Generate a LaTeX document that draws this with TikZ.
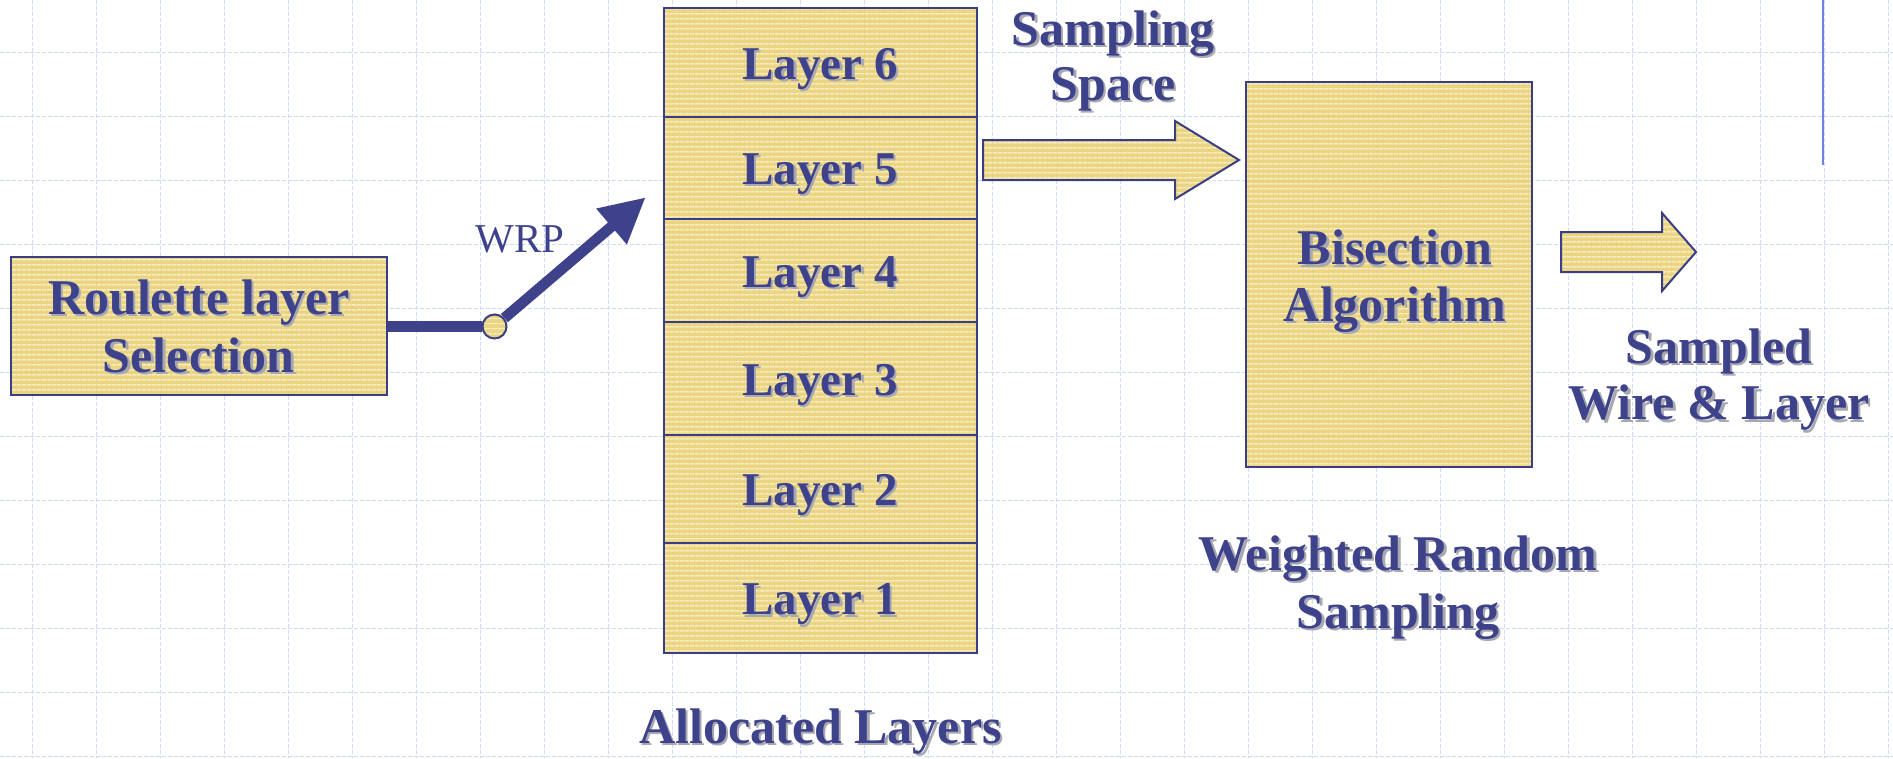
\documentclass[tikz,border=0pt]{standalone}
\usepackage{fontspec}
\setmainfont{Liberation Serif}
\usetikzlibrary{arrows.meta,patterns.meta}
\definecolor{txt}{RGB}{61,66,138}
\definecolor{bord}{RGB}{58,62,132}
\definecolor{yel}{RGB}{232,206,106}
\definecolor{gridc}{RGB}{206,218,252}
\definecolor{shadowc}{RGB}{168,168,178}
\definecolor{vline}{RGB}{110,130,230}
\pgfdeclarelayer{grid}
\pgfdeclarelayer{conn}
\pgfsetlayers{grid,conn,main}
\newcommand\shd[1]{\rlap{\smash{\raisebox{-2.5pt}{\hspace{2.5pt}\textcolor{shadowc}{#1}}}}#1}
\tikzset{
  boxs/.style={draw=bord, line width=2pt,
    preaction={fill=yel, fill opacity=0.85},
    preaction={pattern={Lines[angle=0,distance=4.67pt,line width=1pt]}, pattern color=white, fill opacity=0.85}},
  lay/.style={boxs, minimum width=312.8pt, inner sep=0pt, text height=33pt, text depth=0pt,
    text=txt, font=\bfseries\fontsize{47}{56}\selectfont},
  lbl/.style={text=txt, inner sep=0pt, align=center, font=\bfseries\fontsize{50}{#1}\selectfont},
  lbl/.default=57,
  gridl/.style={draw=gridc, line width=1pt, dash pattern=on 4pt off 2pt},
  conn/.style={draw=txt, line width=10.7pt},
}
\begin{document}
\begin{tikzpicture}[x=1pt,y=-1pt]
\useasboundingbox (0,0) rectangle (1893,758);
\begin{pgfonlayer}{grid}
  \fill[white] (0,0) rectangle (1893,758);
  \foreach \i in {0,...,29} \draw[gridl] ({32+64*\i},0) -- ({32+64*\i},758);
  \foreach \j in {0,...,11} \draw[gridl] (0,{52.7+64*\j}) -- (1893,{52.7+64*\j});
\end{pgfonlayer}

% Roulette box
\node[boxs, minimum width=375.6pt, minimum height=137.7pt, inner sep=0pt, text=txt, align=center,
      font=\bfseries\fontsize{50}{58}\selectfont] (rbox) at (198.8,326.2)
      {\shd{Roulette layer}\\\shd{Selection}};

% circle
\node[circle, boxs, minimum size=24pt, inner sep=0pt] (c) at (494.5,326.5) {};
\coordinate (wtip) at (645.7,197.3);
\node[text=txt, anchor=base, inner sep=0pt, font=\fontsize{41}{48}\selectfont] (wrp) at (520,252.7) {WRP};

% layers stack
\node[lay, minimum height=108.4pt] (l6) at (820.1,62.5)   {\shd{Layer 6}};
\node[lay, minimum height=102.3pt] (l5) at (820.1,167.85) {\shd{Layer 5}};
\node[lay, minimum height=103.3pt] (l4) at (820.1,270.65) {\shd{Layer 4}};
\node[lay, minimum height=112.7pt] (l3) at (820.1,378.65) {\shd{Layer 3}};
\node[lay, minimum height=107.8pt] (l2) at (820.1,488.9)  {\shd{Layer 2}};
\node[lay, minimum height=110.5pt] (l1) at (820.1,598.05) {\shd{Layer 1}};
\node[lbl, anchor=base] (alloc) at (820.6,743) {\shd{Allocated Layers}};

% sampling space arrow
\path[boxs] (983,140) -- (1175,140) -- (1175,121) -- (1239,160) -- (1175,199) -- (1175,180) -- (983,180) -- cycle;
\node[lbl=55] (sspace) at (1113,60.8) {\shd{Sampling}\\\shd{Space}};

% bisection box
\node[boxs, minimum width=286.4pt, minimum height=385.3pt, inner sep=0pt] (bis) at (1389.2,274.65) {};
\node[lbl=56.7] (bistext) at (1395,281.3) {\shd{Bisection}\\\shd{Algorithm}};
\node[lbl=58] (wrs) at (1398,587.4) {\shd{Weighted Random}\\\shd{Sampling}};

% output arrow
\path[boxs] (1561,232) -- (1662,232) -- (1662,213) -- (1696,252) -- (1662,291) -- (1662,272) -- (1561,272) -- cycle;
\node[lbl=56.3] (swl) at (1719,379.4) {\shd{Sampled}\\\shd{Wire \& Layer}};

% top-right vertical line
\draw[vline, line width=1.5pt] (1823,0) -- (1823,165);

\begin{pgfonlayer}{conn}
  \draw[conn] (rbox.east |- c) -- (c.west);
  \draw[conn, -{Triangle[length=45pt,width=44pt]}] (c) -- (wtip);
\end{pgfonlayer}
\end{tikzpicture}
\end{document}
